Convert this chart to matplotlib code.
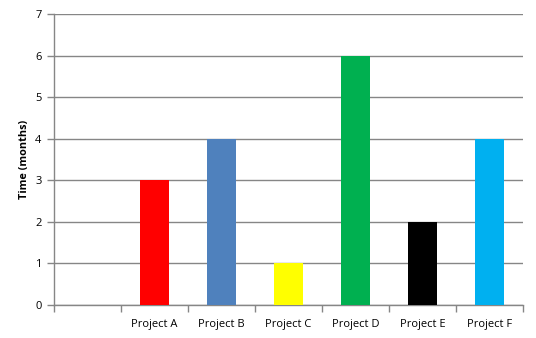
import matplotlib
matplotlib.use("Agg")
import matplotlib.pyplot as plt
import numpy as np

categories = ["", "Project A", "Project B", "Project C", "Project D", "Project E", "Project F"]
months = [np.nan, 3, 4, 1, 6, 2, 4]
colors = ["#FFFFFF", "#FF0000", "#4F81BD", "#FFFF00", "#00B050", "#000000", "#00B0F0"]
y_ticks = [0, 1, 2, 3, 4, 5, 6, 7]

plt.rcParams["font.family"] = ["Open Sans", "DejaVu Sans"]

fig = plt.figure(figsize=(5.36, 3.38), dpi=100)
ax = fig.add_axes([54 / 536, 33 / 338, 469 / 536, 291 / 338])

x = np.arange(len(categories))
ax.bar(x, months, width=0.42, color=colors, zorder=3)

ax.set_xlim(-0.5, len(categories) - 0.5)
ax.set_ylim(0, 7)
ax.set_yticks(y_ticks)
ax.yaxis.grid(True, color="#868686", linewidth=1.0, zorder=0)
ax.set_axisbelow(True)

ax.set_xticks(x)
ax.set_xticklabels(categories, fontsize=8)
ax.set_xticks(np.arange(-0.5, len(categories)), minor=True)
ax.tick_params(axis="x", which="major", length=0, pad=10)
ax.tick_params(axis="x", which="minor", length=5, color="#868686", width=1.0)
ax.tick_params(axis="y", length=5, color="#868686", width=1.0, labelsize=8, pad=4)

for side in ["top", "right"]:
    ax.spines[side].set_visible(False)
for side in ["left", "bottom"]:
    ax.spines[side].set_color("#868686")
    ax.spines[side].set_linewidth(1.0)

ax.set_ylabel("Time (months)", fontsize=7.8, fontweight="bold", labelpad=4)

fig.savefig("out.png", dpi=100)
